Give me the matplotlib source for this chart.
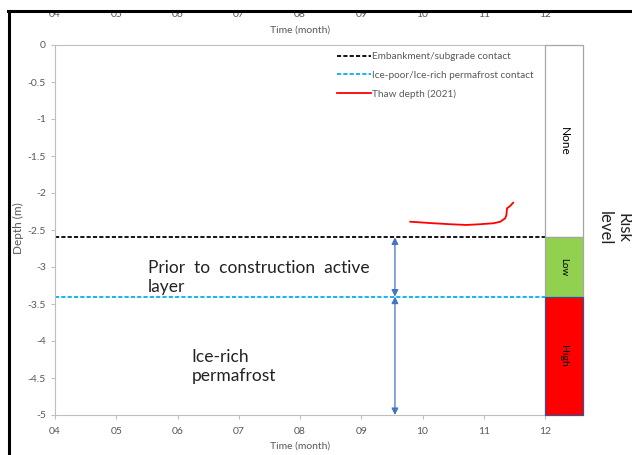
import matplotlib
matplotlib.use("Agg")
import matplotlib.pyplot as plt
from matplotlib.lines import Line2D
from matplotlib.patches import Rectangle

plt.rcParams['font.family'] = ['Lato', 'DejaVu Sans']

# ---- data ----
month_ticks = [4, 5, 6, 7, 8, 9, 10, 11, 12]
month_labels = ["04", "05", "06", "07", "08", "09", "10", "11", "12"]
depth_ticks = [0, -0.5, -1, -1.5, -2, -2.5, -3, -3.5, -4, -4.5, -5]
depth_labels = ["0", "-0.5", "-1", "-1.5", "-2", "-2.5", "-3", "-3.5", "-4", "-4.5", "-5"]

embankment_depth = -2.6
icerich_depth = -3.4
bottom_depth = -5.0

thaw_month = [9.80, 10.18, 10.45, 10.72, 10.94, 11.16, 11.27, 11.35, 11.37, 11.38, 11.43, 11.48]
thaw_depth = [-2.388, -2.409, -2.422, -2.432, -2.422, -2.409, -2.388, -2.342, -2.297, -2.207, -2.176, -2.131]

risk_levels = ["None", "Low", "High"]
risk_top = [0, -2.6, -3.4]
risk_bottom = [-2.6, -3.4, -5.0]
risk_colors = ["#FFFFFF", "#92D050", "#FF0000"]
risk_edges = ["#A6A6A6", "#A6A6A6", "#2F5597"]
risk_fontsizes = [8.5, 7, 7.5]

arrow_month = 9.55

W, H = 632, 455
fig = plt.figure(figsize=(W / 100, H / 100), dpi=100)

x0, x1 = 55, 545
y0, y1 = 45, 415
ax = fig.add_axes([x0 / W, 1 - y1 / H, (x1 - x0) / W, (y1 - y0) / H])
ax.set_xlim(4, 12)
ax.set_ylim(-5, 0)

grey = "#595959"
spine_c = "#BFBFBF"
ax.spines["right"].set_visible(False)
for s in ["left", "bottom", "top"]:
    ax.spines[s].set_color(spine_c)
    ax.spines[s].set_linewidth(0.8)

ax.set_xticks(month_ticks)
ax.set_xticklabels(month_labels)
ax.set_yticks(depth_ticks)
ax.set_yticklabels(depth_labels)
ax.tick_params(axis='both', colors=spine_c, labelcolor=grey, labelsize=7.5, length=3, width=0.8)
ax.tick_params(axis='x', pad=6)
ax.set_xlabel("Time (month)", fontsize=7.5, color=grey, labelpad=4)
ax.set_ylabel("Depth (m)", fontsize=8.5, color=grey)
ax.yaxis.set_label_coords((24 - x0) / (x1 - x0), (y1 - 228) / (y1 - y0))

# top axis
axt = ax.twiny()
axt.set_xlim(4, 12)
axt.set_xticks(month_ticks)
axt.set_xticklabels(month_labels)
axt.tick_params(axis='x', length=0, pad=18.5, labelcolor=grey, labelsize=7.5)
for s in axt.spines.values():
    s.set_visible(False)
fig.text(300 / W, 1 - 30 / H, "Time (month)", fontsize=7.5, color=grey, ha='center', va='center')

# lines
dash = (0, (2.3, 1.2))
l1, = ax.plot([4, 12], [embankment_depth, embankment_depth], color="black", ls=dash, lw=1.3,
              label="Embankment/subgrade contact")
l2, = ax.plot([4, 12], [icerich_depth, icerich_depth], color="#00B0F0", ls=dash, lw=1.3,
              label="Ice-poor/Ice-rich permafrost contact")
l3, = ax.plot(thaw_month, thaw_depth, color="#FF0000", lw=1.3, label="Thaw depth (2021)")

leg = ax.legend(handles=[l1, l2, l3], loc='upper left', bbox_to_anchor=((330 - x0) / (x1 - x0), 1.0),
                frameon=False, fontsize=7.2, labelcolor=grey, handlelength=3.4, handletextpad=0.15,
                labelspacing=0.95, borderaxespad=0.3)

# arrows
arrow_kw = dict(arrowstyle='<|-|>', color="#4472C4", lw=0.9, mutation_scale=10, shrinkA=0, shrinkB=0)
ax.annotate("", xy=(arrow_month, embankment_depth), xytext=(arrow_month, icerich_depth), arrowprops=arrow_kw)
ax.annotate("", xy=(arrow_month, icerich_depth), xytext=(arrow_month, bottom_depth), arrowprops=arrow_kw)

ax.text(5.52, -3.14, "Prior  to  construction  active\nlayer", fontsize=12.5, color="#222222",
        ha='left', va='center', linespacing=1.2)
ax.text(6.23, -4.345, "Ice-rich\npermafrost", fontsize=12.5, color="#222222",
        ha='left', va='center', linespacing=1.3)

# risk bar
axr = fig.add_axes([x1 / W, 1 - y1 / H, 38 / W, (y1 - y0) / H])
axr.set_xlim(0, 1)
axr.set_ylim(-5, 0)
axr.axis('off')
for lvl, top, bot, fc, ec, fs in zip(risk_levels, risk_top, risk_bottom, risk_colors, risk_edges, risk_fontsizes):
    axr.bar(0.5, top - bot, bottom=bot, width=1.0, color=fc, edgecolor=ec, linewidth=0.9, clip_on=False)
    axr.text(0.5, (top + bot) / 2, lvl, rotation=270, ha='center', va='center', fontsize=fs, color="black")

fig.text(614 / W, 1 - 228 / H, "Risk\nlevel", rotation=270, ha='center', va='center', fontsize=12,
         color="#222222", linespacing=1.25)

# mask above the border (the top labels are cut there) and border lines
fig.add_artist(Rectangle((0, 1 - 10.5 / H), 1, 10.5 / H, transform=fig.transFigure, facecolor="white",
                         edgecolor="none", zorder=10))
fig.add_artist(Line2D([8.5 / W, 8.5 / W], [0, 1 - 10.5 / H], transform=fig.transFigure, color="black",
                      lw=2.2, zorder=11))
fig.add_artist(Line2D([7.7 / W, 1], [1 - 10.5 / H, 1 - 10.5 / H], transform=fig.transFigure, color="black",
                      lw=2.2, zorder=11))

fig.savefig("out.png", dpi=100)
